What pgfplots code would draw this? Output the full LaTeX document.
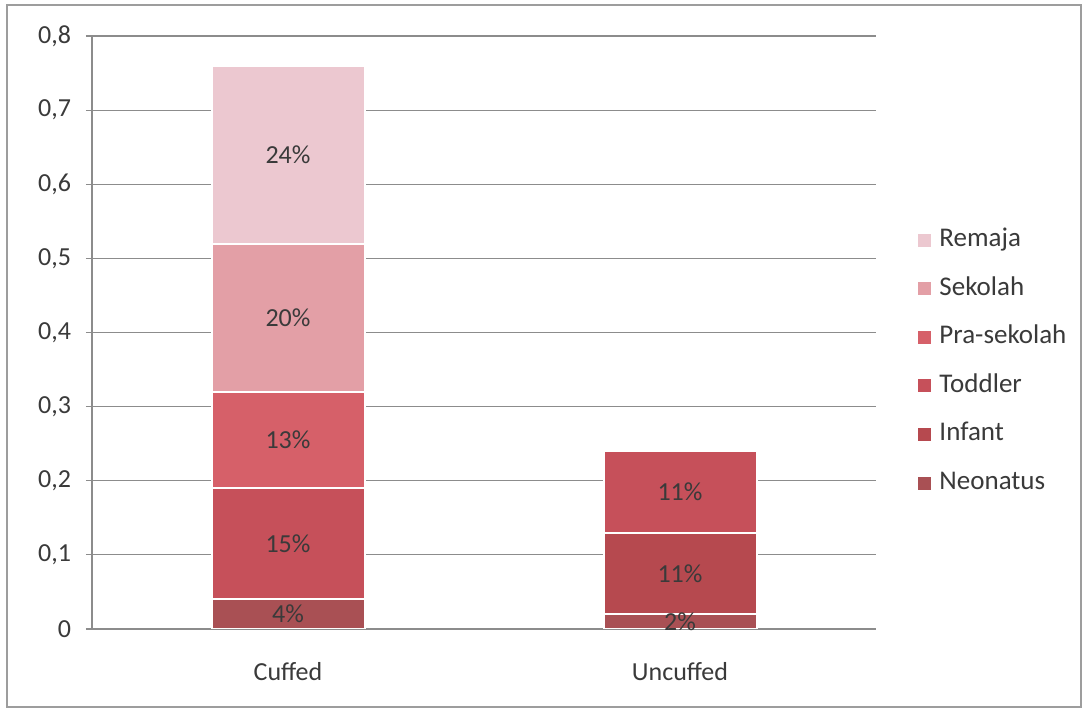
\documentclass[border=0pt]{standalone}
\usepackage{pgfplots}
\pgfplotsset{compat=1.18}
\usepackage{fontspec}
\setmainfont{Carlito}

\definecolor{cNeo}{HTML}{A95054}
\definecolor{cInf}{HTML}{B6494F}
\definecolor{cTod}{HTML}{C6505A}
\definecolor{cPra}{HTML}{D66069}
\definecolor{cSek}{HTML}{E39FA6}
\definecolor{cRem}{HTML}{ECC8D0}
\definecolor{txt}{HTML}{3A3A3A}
\definecolor{gridc}{HTML}{8C8C8C}

\begin{document}
\begin{tikzpicture}
\useasboundingbox (0,0) rectangle (544.5pt,356pt);
\fill[white] (0,0) rectangle (544.5pt,356pt);
\draw[color=gridc!85, line width=0.8pt] (3.5pt,2.5pt) rectangle (540.5pt,353.5pt);
\begin{axis}[
  at={(46pt,41.5pt)}, anchor=south west,
  scale only axis, width=392pt, height=296.5pt,
  ybar stacked, bar width=76.5pt,
  xmin=-0.5, xmax=1.5, ymin=0, ymax=0.8,
  xtick={0,1}, xticklabels={Cuffed,Uncuffed},
  major x tick style={draw=none},
  extra x ticks={-0.5,0.5,1.5}, extra x tick labels={},
  extra x tick style={grid=none, major tick length=3pt, tick align=outside,
    major tick style={draw=gridc}},
  ytick={0,0.1,0.2,0.3,0.4,0.5,0.6,0.7,0.8},
  yticklabel style={/pgf/number format/use comma, /pgf/number format/fixed,
    /pgf/number format/precision=1, xshift=-4pt},
  /pgf/number format/assume math mode=true,
  axis x line*=bottom, axis y line*=left,
  axis line style={draw=gridc, line width=0.6pt},
  tick align=outside, major tick length=3pt,
  tick style={draw=gridc, line width=0.6pt},
  ymajorgrids, grid style={draw=gridc, line width=0.6pt},
  tick label style={font=\fontsize{13}{15}\selectfont, color=txt},
  xticklabel style={yshift=-10pt},
  every axis plot/.append style={draw=white, line width=1pt},
  point meta=explicit,
  nodes near coords={\pgfmathprintnumber[fixed,precision=0]{\pgfplotspointmeta}\%},
  % segment labels sit in the middle of each stacked segment; empty segments get none
  every node near coord/.append style={
    check for zero/.code={\pgfmathfloatifflags{\pgfplotspointmeta}{0}{\pgfkeys{/tikz/coordinate}}{}},
    check for zero,
    font=\fontsize{13}{15}\selectfont, color=txt, anchor=center},
  reverse legend,
  legend cell align=left,
  legend image code/.code={\fill[#1, draw=none] (0pt,-3.25pt) rectangle (6.5pt,3.25pt);},
  legend style={at={(1.046,0.451)}, anchor=west, draw=none, fill=none,
    font=\fontsize{13.5}{15}\selectfont, text=txt, row sep=12.8pt,
    nodes={inner sep=0pt, text height=9pt, text depth=2.5pt},
    /tikz/every odd column/.append style={column sep=4pt}},
]
\addplot[fill=cNeo] coordinates {(0,0.04) [4] (1,0.02) [2]};
\addplot[fill=cInf] coordinates {(0,0) [0] (1,0.11) [11]};
\addplot[fill=cTod] coordinates {(0,0.15) [15] (1,0.11) [11]};
\addplot[fill=cPra] coordinates {(0,0.13) [13] (1,0) [0]};
\addplot[fill=cSek] coordinates {(0,0.20) [20] (1,0) [0]};
\addplot[fill=cRem] coordinates {(0,0.24) [24] (1,0) [0]};
\legend{Neonatus,Infant,Toddler,Pra-sekolah,Sekolah,Remaja}
\end{axis}
\end{tikzpicture}
\end{document}
